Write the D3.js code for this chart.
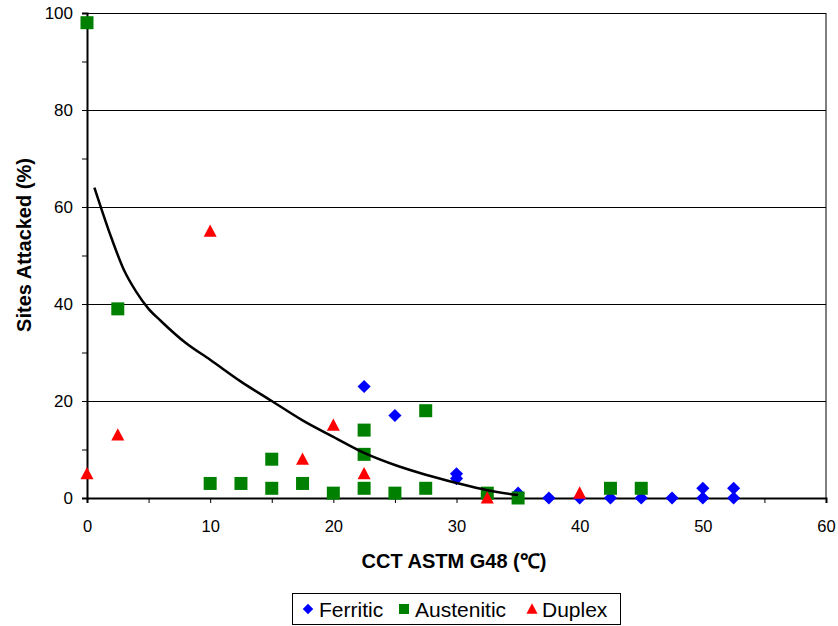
<!DOCTYPE html>
<html>
<head>
<meta charset="utf-8">
<script src="https://cdn.jsdelivr.net/npm/d3@7"></script>
<style>
  body { margin: 0; background: #fff; }
  svg text { font-family: "Liberation Sans", Arial, sans-serif; }
</style>
</head>
<body>
<div id="chart"></div>
<script>
// data: [CCT (°C), sites attacked (%)]
const ferritic = [
  [22.5, 23], [25, 17], [30, 5], [30, 4], [35, 1], [37.5, 0], [40, 0],
  [42.5, 0], [45, 0], [47.5, 0], [50, 2], [50, 0], [52.5, 2], [52.5, 0]
];
const austenitic = [
  [0, 98], [2.5, 39], [10, 3], [12.5, 3], [15, 8], [15, 2], [17.5, 3], [20, 1],
  [22.5, 14], [22.5, 9], [22.5, 2], [25, 1], [27.5, 18], [27.5, 2],
  [32.5, 1], [35, 0], [42.5, 2], [45, 2]
];
const duplex = [
  [0, 5], [2.5, 13], [10, 55], [17.5, 8], [20, 15], [22.5, 5], [32.5, 0], [40, 1]
];
// fitted trend line
const trend = [
  [0.6, 64], [2, 53.5], [3, 47], [4, 42.5], [5, 39], [6, 36.5], [8, 32],
  [10, 28.5], [12.5, 24], [15, 20], [17.5, 16], [20, 12.6], [22.5, 9.3],
  [25, 6.8], [27.5, 4.8], [30, 3.1], [32.5, 1.6], [35, 0.6]
];
const xTicks = [0, 10, 20, 30, 40, 50, 60];
const yTicks = [0, 20, 40, 60, 80, 100];

const width = 838, height = 626;
const margin = {top: 13, right: 12, bottom: 128, left: 87};

const svg = d3.select("#chart").append("svg")
  .attr("width", width)
  .attr("height", height);

const x = d3.scaleLinear().domain([0, 60]).range([margin.left, width - margin.right]);
const y = d3.scaleLinear().domain([0, 100]).range([height - margin.bottom, margin.top]);

// gridlines
svg.append("g")
  .selectAll("line")
  .data(yTicks.filter(d => d > 0))
  .join("line")
  .attr("x1", x(0)).attr("x2", x(60))
  .attr("y1", d => Math.round(y(d)) + 0.5)
  .attr("y2", d => Math.round(y(d)) + 0.5)
  .attr("stroke", "#000")
  .attr("stroke-width", 1);

// right frame line
svg.append("line")
  .attr("x1", x(60)).attr("x2", x(60))
  .attr("y1", y(100)).attr("y2", y(0))
  .attr("stroke", "#000");

// y axis
const yAxis = d3.axisLeft(y).tickValues(d3.range(0, 101, 10)).tickSize(5).tickPadding(9)
  .tickFormat(d => d % 20 === 0 ? d : "");
svg.append("g")
  .attr("transform", `translate(${x(0)},0)`)
  .call(yAxis)
  .call(g => g.select(".domain").attr("stroke-width", 2))
  .call(g => g.selectAll(".tick text").style("font-size", "17px").attr("fill", "#000"));

// x axis
const xAxis = d3.axisBottom(x).tickValues(d3.range(0, 61, 5)).tickSize(5).tickPadding(17)
  .tickFormat(d => xTicks.includes(d) ? d : "");
svg.append("g")
  .attr("transform", `translate(0,${y(0)})`)
  .call(xAxis)
  .call(g => g.select(".domain").attr("stroke-width", 2))
  .call(g => g.selectAll(".tick text").style("font-size", "16.5px").attr("fill", "#000"));

// axis titles
svg.append("text")
  .attr("x", 454)
  .attr("y", 568)
  .attr("text-anchor", "middle")
  .style("font-size", "20px")
  .style("font-weight", "bold")
  .text("CCT ASTM G48 (\u2103)");

svg.append("text")
  .attr("transform", `translate(31,245) rotate(-90)`)
  .attr("text-anchor", "middle")
  .style("font-size", "20px")
  .style("font-weight", "bold")
  .text("Sites Attacked (%)");

// markers
const tri = {
  draw(ctx, size) {
    const w = Math.sqrt(size) * 0.62, h = w * 1.9;
    ctx.moveTo(0, -h * 0.55);
    ctx.lineTo(w, h * 0.45);
    ctx.lineTo(-w, h * 0.45);
    ctx.closePath();
  }
};
const sym = {
  diamond: d3.symbol().type(d3.symbolDiamond2).size(110),
  square: d3.symbol().type(d3.symbolSquare).size(169),
  triangle: d3.symbol().type(tri).size(110)
};

function drawSeries(data, path, color) {
  svg.append("g")
    .selectAll("path")
    .data(data)
    .join("path")
    .attr("d", path)
    .attr("transform", d => `translate(${x(d[0])},${y(d[1])})`)
    .attr("fill", color);
}
drawSeries(ferritic, sym.diamond, "#0000ff");
drawSeries(austenitic, sym.square, "#008000");
drawSeries(duplex, sym.triangle, "#ff0000");

// trend line
const line = d3.line()
  .x(d => x(d[0]))
  .y(d => y(d[1]))
  .curve(d3.curveMonotoneX);
svg.append("path")
  .datum(trend)
  .attr("fill", "none")
  .attr("stroke", "#000")
  .attr("stroke-width", 2.5)
  .attr("d", line);

// legend
const legend = svg.append("g");
legend.append("rect")
  .attr("x", 292.5).attr("y", 593.5)
  .attr("width", 328).attr("height", 31)
  .attr("fill", "#fff").attr("stroke", "#000");

const legendItems = [
  {label: "Ferritic", path: d3.symbol().type(d3.symbolDiamond2).size(70), color: "#0000ff", sx: 308, tx: 319},
  {label: "Austenitic", path: d3.symbol().type(d3.symbolSquare).size(100), color: "#008000", sx: 404, tx: 415},
  {label: "Duplex", path: d3.symbol().type(tri).size(80), color: "#ff0000", sx: 532, tx: 542}
];
legendItems.forEach(it => {
  legend.append("path")
    .attr("d", it.path)
    .attr("transform", `translate(${it.sx},609)`)
    .attr("fill", it.color);
  legend.append("text")
    .attr("x", it.tx).attr("y", 616.5)
    .style("font-size", "21px")
    .text(it.label);
});
</script>
</body>
</html>
